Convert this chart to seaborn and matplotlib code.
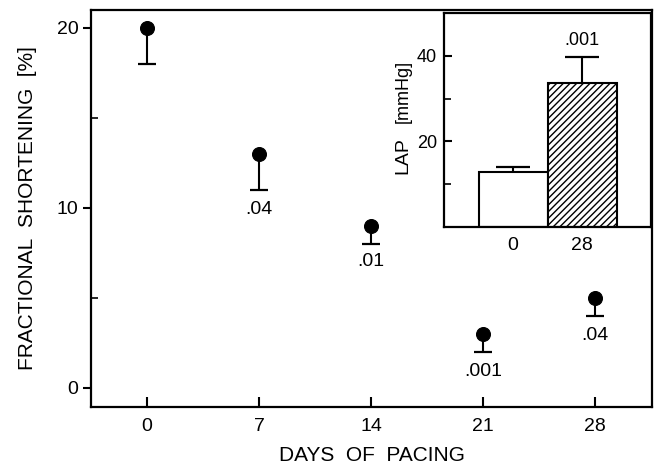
import numpy as np
import pandas as pd
import seaborn as sns
import matplotlib
matplotlib.use("Agg")
import matplotlib.pyplot as plt

# main panel: fractional shortening vs days of pacing
days = [0, 7, 14, 21, 28]
fs_mean = [20, 13, 9, 3, 5]
fs_sem = [2, 2, 1, 1, 1]
p_labels = ["", ".04", ".01", ".001", ".04"]
p_label_y = [None, 9.9, 7.0, 0.9, 2.9]

# inset: left atrial pressure
lap_groups = ["0", "28"]
lap_mean = [12.8, 33.7]
lap_sem = [1.2, 6.1]
lap_p = ".001"

sns.set_style("ticks")
plt.rcParams["font.family"] = ["Liberation Sans", "DejaVu Sans"]
plt.rcParams["hatch.linewidth"] = 1.0
for k in ["text.color", "axes.labelcolor", "xtick.color", "ytick.color", "axes.edgecolor"]:
    plt.rcParams[k] = "black"

fig = plt.figure(figsize=(6.57, 4.66), dpi=100)
ax = fig.add_axes([91 / 657, 1 - 407 / 466, 561 / 657, 397 / 466])

df = pd.DataFrame({"day": days, "fs": fs_mean})
df["low"] = df["fs"] - np.array(fs_sem)
# error bars point down only, cap at the lower end
ax.errorbar(days, fs_mean, yerr=[fs_sem, [0] * len(fs_sem)], fmt="none",
            ecolor="black", elinewidth=1.5, capsize=0, zorder=2)
sns.scatterplot(data=df, x="day", y="low", ax=ax, marker="_", s=180,
                color="black", linewidth=1.6, zorder=2, legend=False)
sns.scatterplot(data=df, x="day", y="fs", ax=ax, color="black", s=100,
                edgecolor="black", zorder=3, legend=False)

for d, lab, ly in zip(days, p_labels, p_label_y):
    if lab:
        ax.text(d, ly, lab, ha="center", va="center", fontsize=14)

ax.set_xlim(-3.5, 31.56)
ax.set_ylim(-1.06, 21)
ax.set_xticks(days)
ax.set_yticks([0, 10, 20])
ax.set_yticks([5, 15], minor=True)
ax.tick_params(axis="x", direction="in", length=7, width=1.5, labelsize=14, pad=8)
ax.tick_params(axis="y", which="major", direction="out", length=6, width=1.5, labelsize=14, pad=3)
ax.tick_params(axis="y", which="minor", direction="in", length=5, width=1.2)
for s in ax.spines.values():
    s.set_visible(True)
    s.set_linewidth(1.6)
ax.set_xlabel("DAYS  OF  PACING", fontsize=15, labelpad=8)
ax.set_ylabel("FRACTIONAL  SHORTENING  [%]", fontsize=15, labelpad=14)

# inset
ins = fig.add_axes([444 / 657, 1 - 227 / 466, 207 / 657, 214 / 466])
ins.set_facecolor("white")
lap_df = pd.DataFrame({"group": lap_groups, "lap": lap_mean})
lap_df["high"] = lap_df["lap"] + np.array(lap_sem)
sns.barplot(data=lap_df, x="group", y="lap", ax=ins, width=1.0,
            color="white", edgecolor="black", linewidth=1.5, errorbar=None)
ins.patches[1].set_hatch("/////")
ins.errorbar([0, 1], lap_mean, yerr=[[0, 0], lap_sem], fmt="none",
             ecolor="black", elinewidth=1.5, capsize=0)
ins.scatter([0, 1], lap_df["high"], marker="_", s=625, color="black",
            linewidths=1.6, zorder=3)
ins.text(1, 43.5, lap_p, ha="center", va="center", fontsize=13)
ins.set_xlim(-1.0, 2.0)
ins.set_ylim(0, 50)
ins.set_yticks([20, 40])
ins.set_yticks([10, 30], minor=True)
ins.set_xlabel("")
ins.set_ylabel("")
ins.tick_params(axis="x", length=0, labelsize=14, pad=7)
ins.tick_params(axis="y", which="major", direction="in", length=6, width=1.5, labelsize=13, pad=5)
ins.tick_params(axis="y", which="minor", direction="in", length=5, width=1.2)
for s in ins.spines.values():
    s.set_visible(True)
    s.set_linewidth(1.6)
ins.text(-0.198, 0.336, "LAP", rotation=90, ha="center", va="center",
         fontsize=14, transform=ins.transAxes)
ins.text(-0.198, 0.633, "[mmHg]", rotation=90, ha="center", va="center",
         fontsize=13, transform=ins.transAxes)

fig.savefig("out.png", dpi=100)
